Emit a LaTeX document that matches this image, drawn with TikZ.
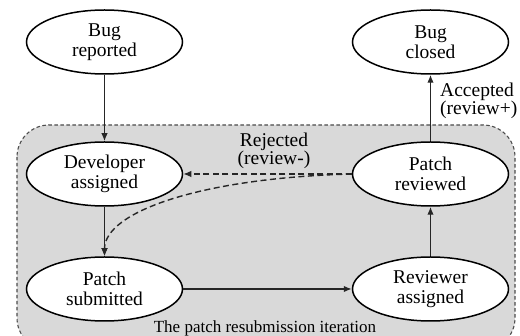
\documentclass[tikz,border=0pt]{standalone}
\usepackage{fontspec}
\setmainfont{Liberation Serif}
\usetikzlibrary{shapes.geometric,arrows.meta}
\begin{document}
\begin{tikzpicture}[x=1pt,y=-1pt,
 state/.style={ellipse,draw=black,line width=1.5pt,fill=white,minimum width=156pt,minimum height=64pt,inner sep=0pt,align=center,font=\fontsize{19.5}{20}\selectfont},
 lbl/.style={align=center,font=\fontsize{19.5}{18}\selectfont,inner sep=0pt},
 flow/.style={draw=black!85,line width=1.4pt,-{Latex[length=8pt,width=6.5pt]}},
 back/.style={flow,dash pattern=on 6pt off 3.5pt}]
\useasboundingbox (0,0) rectangle (520,336);
\begin{scope}
\clip (0,0) rectangle (520,336);
\draw[fill=black!15,draw=black!70,line width=1.1pt,dash pattern=on 3.5pt off 2.5pt,rounded corners=32pt] (17,125) rectangle (515,350);
\end{scope}
\node[state] (br) at (104.5,42) {Bug\\reported};
\node[state] (bc) at (430.5,42) {Bug\\closed};
\node[state] (da) at (104.5,174) {Developer\\assigned};
\node[state] (pr) at (430.5,174) {Patch\\reviewed};
\node[state] (ps) at (104.5,289) {Patch\\submitted};
\node[state] (ra) at (430.5,289) {Reviewer\\assigned};
\draw[flow] (br) -- (da);
\draw[flow] (da) -- (ps);
\draw[flow] (ps) -- (ra);
\draw[flow] (ra) -- (pr);
\draw[flow] (pr) -- (bc);
\draw[back] (pr.west) -- (da.east);
\draw[back] (pr.west) .. controls (200,178) and (104.5,212) .. (ps.north);
\node[lbl] (rej) at (274,151) {Rejected\\(review-)};
\node[lbl,anchor=west,align=left] (acc) at (440,101) {Accepted\\(review+)};
\node[inner sep=0pt,font=\fontsize{17}{17}\selectfont] (cap) at (265,328) {The patch resubmission iteration};
\end{tikzpicture}
\end{document}
